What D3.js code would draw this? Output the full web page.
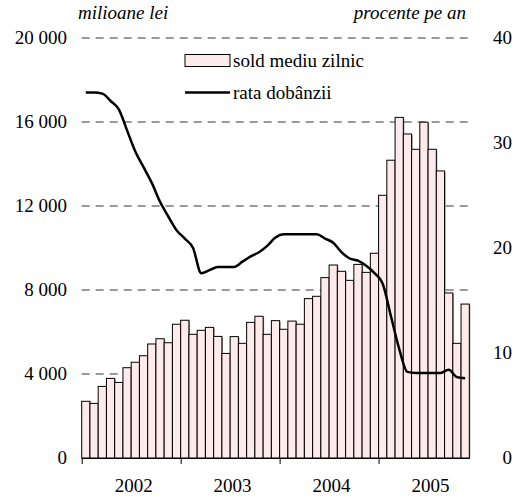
<!DOCTYPE html>
<html>
<head>
<meta charset="utf-8">
<script src="https://cdn.jsdelivr.net/npm/d3@7"></script>
<style>
body{margin:0;background:#fff;}
</style>
</head>
<body>
<div id="chart"></div>
<script>
// sold mediu zilnic (milioane lei), ian 2002 - nov 2005
let sold = [2700,2600,3410,3790,3600,4300,4560,4870,5430,5680,5490,6370,
  6560,5890,6080,6220,5790,4980,5780,5460,6460,6750,5890,6540,
  6130,6520,6370,7590,7700,8590,9190,8890,8460,9220,8840,9750,
  12510,14180,16220,15430,14700,15990,14700,13670,7860,5460,7330];
// rata dobanzii (procente pe an)
let rata = [34.8,34.8,34.7,34.0,33.2,31.2,29.2,27.7,26.2,24.4,23.0,21.7,
  20.9,20.0,17.6,17.9,18.2,18.2,18.2,18.7,19.2,19.6,20.2,21.0,
  21.3,21.3,21.3,21.3,21.3,20.9,20.5,19.6,19.0,18.8,18.3,17.6,
  16.6,13.5,10.4,8.2,8.1,8.1,8.1,8.1,8.4,7.7,7.6];
let years = ["2002","2003","2004","2005"];
let leftTicks = [0,4000,8000,12000,16000,20000];
let rightTicks = [0,10,20,30,40];

let W = 515, H = 497;
let mLeft = 81.7, mRight = 469.3, mTop = 38, mBottom = 458;
let font = "'Times New Roman', Times, 'Liberation Serif', Tinos, 'DejaVu Serif', serif";

let svg = d3.select("#chart").append("svg")
  .attr("width", W).attr("height", H)
  .attr("font-family", font);

let x = d3.scaleBand()
  .domain(d3.range(sold.length))
  .range([mLeft, mRight])
  .paddingInner(0).paddingOuter(0);
let xm = d3.scaleLinear().domain([0, sold.length]).range([mLeft, mRight]);
let y = d3.scaleLinear().domain([0, 20000]).range([mBottom, mTop]);
let y2 = d3.scaleLinear().domain([0, 40]).range([mBottom, mTop]);

// gridlines
svg.append("g").selectAll("line")
  .data(leftTicks.filter(d => d > 0))
  .join("line")
  .attr("x1", mLeft).attr("x2", mRight + 3)
  .attr("y1", d => y(d)).attr("y2", d => y(d))
  .attr("stroke", "#333").attr("stroke-width", 1)
  .attr("stroke-dasharray", "8,6");

// bars (shadow + bar)
let bw = x.bandwidth();
svg.append("g").selectAll("rect")
  .data(sold)
  .join("rect")
  .attr("x", (d, i) => x(i) + 1)
  .attr("y", d => y(d) + 1)
  .attr("width", bw)
  .attr("height", d => mBottom - y(d) - 1)
  .attr("fill", "#888");
svg.append("g").selectAll("rect")
  .data(sold)
  .join("rect")
  .attr("x", (d, i) => x(i))
  .attr("y", d => y(d))
  .attr("width", bw)
  .attr("height", d => mBottom - y(d))
  .attr("fill", "#fdeaea")
  .attr("stroke", "#000").attr("stroke-width", 1);

// x axis
let xAxis = svg.append("g")
  .attr("transform", "translate(0," + mBottom + ")")
  .call(d3.axisBottom(xm).tickValues([0,12,24,36]).tickFormat("").tickSizeInner(6).tickSizeOuter(0));
xAxis.select(".domain").attr("stroke", "#000").attr("stroke-width", 1.2);
xAxis.selectAll(".tick line").attr("stroke", "#000");

svg.append("g").selectAll("text")
  .data(years)
  .join("text")
  .attr("x", (d, i) => xm(i * 12 + 6.3))
  .attr("y", 492)
  .attr("text-anchor", "middle")
  .attr("font-size", 19)
  .text(d => d);

// left axis labels
svg.append("g").selectAll("text")
  .data(leftTicks)
  .join("text")
  .attr("x", 67)
  .attr("y", d => y(d) + 6)
  .attr("text-anchor", "end")
  .attr("font-size", 19)
  .text(d => d3.format(",")(d).replace(/,/g, " "));

// right axis labels
svg.append("g").selectAll("text")
  .data(rightTicks)
  .join("text")
  .attr("x", 512)
  .attr("y", d => y2(d) + 6)
  .attr("text-anchor", "end")
  .attr("font-size", 19)
  .text(d => d);

// line
let line = d3.line()
  .x((d, i) => x(i) + bw / 2)
  .y(d => y2(d))
  .curve(d3.curveMonotoneX);
svg.append("path")
  .datum(rata)
  .attr("d", line)
  .attr("fill", "none")
  .attr("stroke", "#000")
  .attr("stroke-width", 2.5);

// axis titles
svg.append("text").attr("x", 78).attr("y", 19)
  .attr("font-size", 19).attr("font-style", "italic")
  .text("milioane lei");
svg.append("text").attr("x", 466).attr("y", 19)
  .attr("text-anchor", "end")
  .attr("font-size", 19).attr("font-style", "italic")
  .text("procente pe an");

// legend
svg.append("rect").attr("x", 185).attr("y", 54.5).attr("width", 45).attr("height", 12)
  .attr("fill", "#fdeaea").attr("stroke", "#000");
svg.append("text").attr("x", 233).attr("y", 67).attr("font-size", 19)
  .text("sold mediu zilnic");
svg.append("line").attr("x1", 185).attr("x2", 230).attr("y1", 92.5).attr("y2", 92.5)
  .attr("stroke", "#000").attr("stroke-width", 2.5);
svg.append("text").attr("x", 233).attr("y", 99).attr("font-size", 19)
  .text("rata dobânzii");
</script>
</body>
</html>
